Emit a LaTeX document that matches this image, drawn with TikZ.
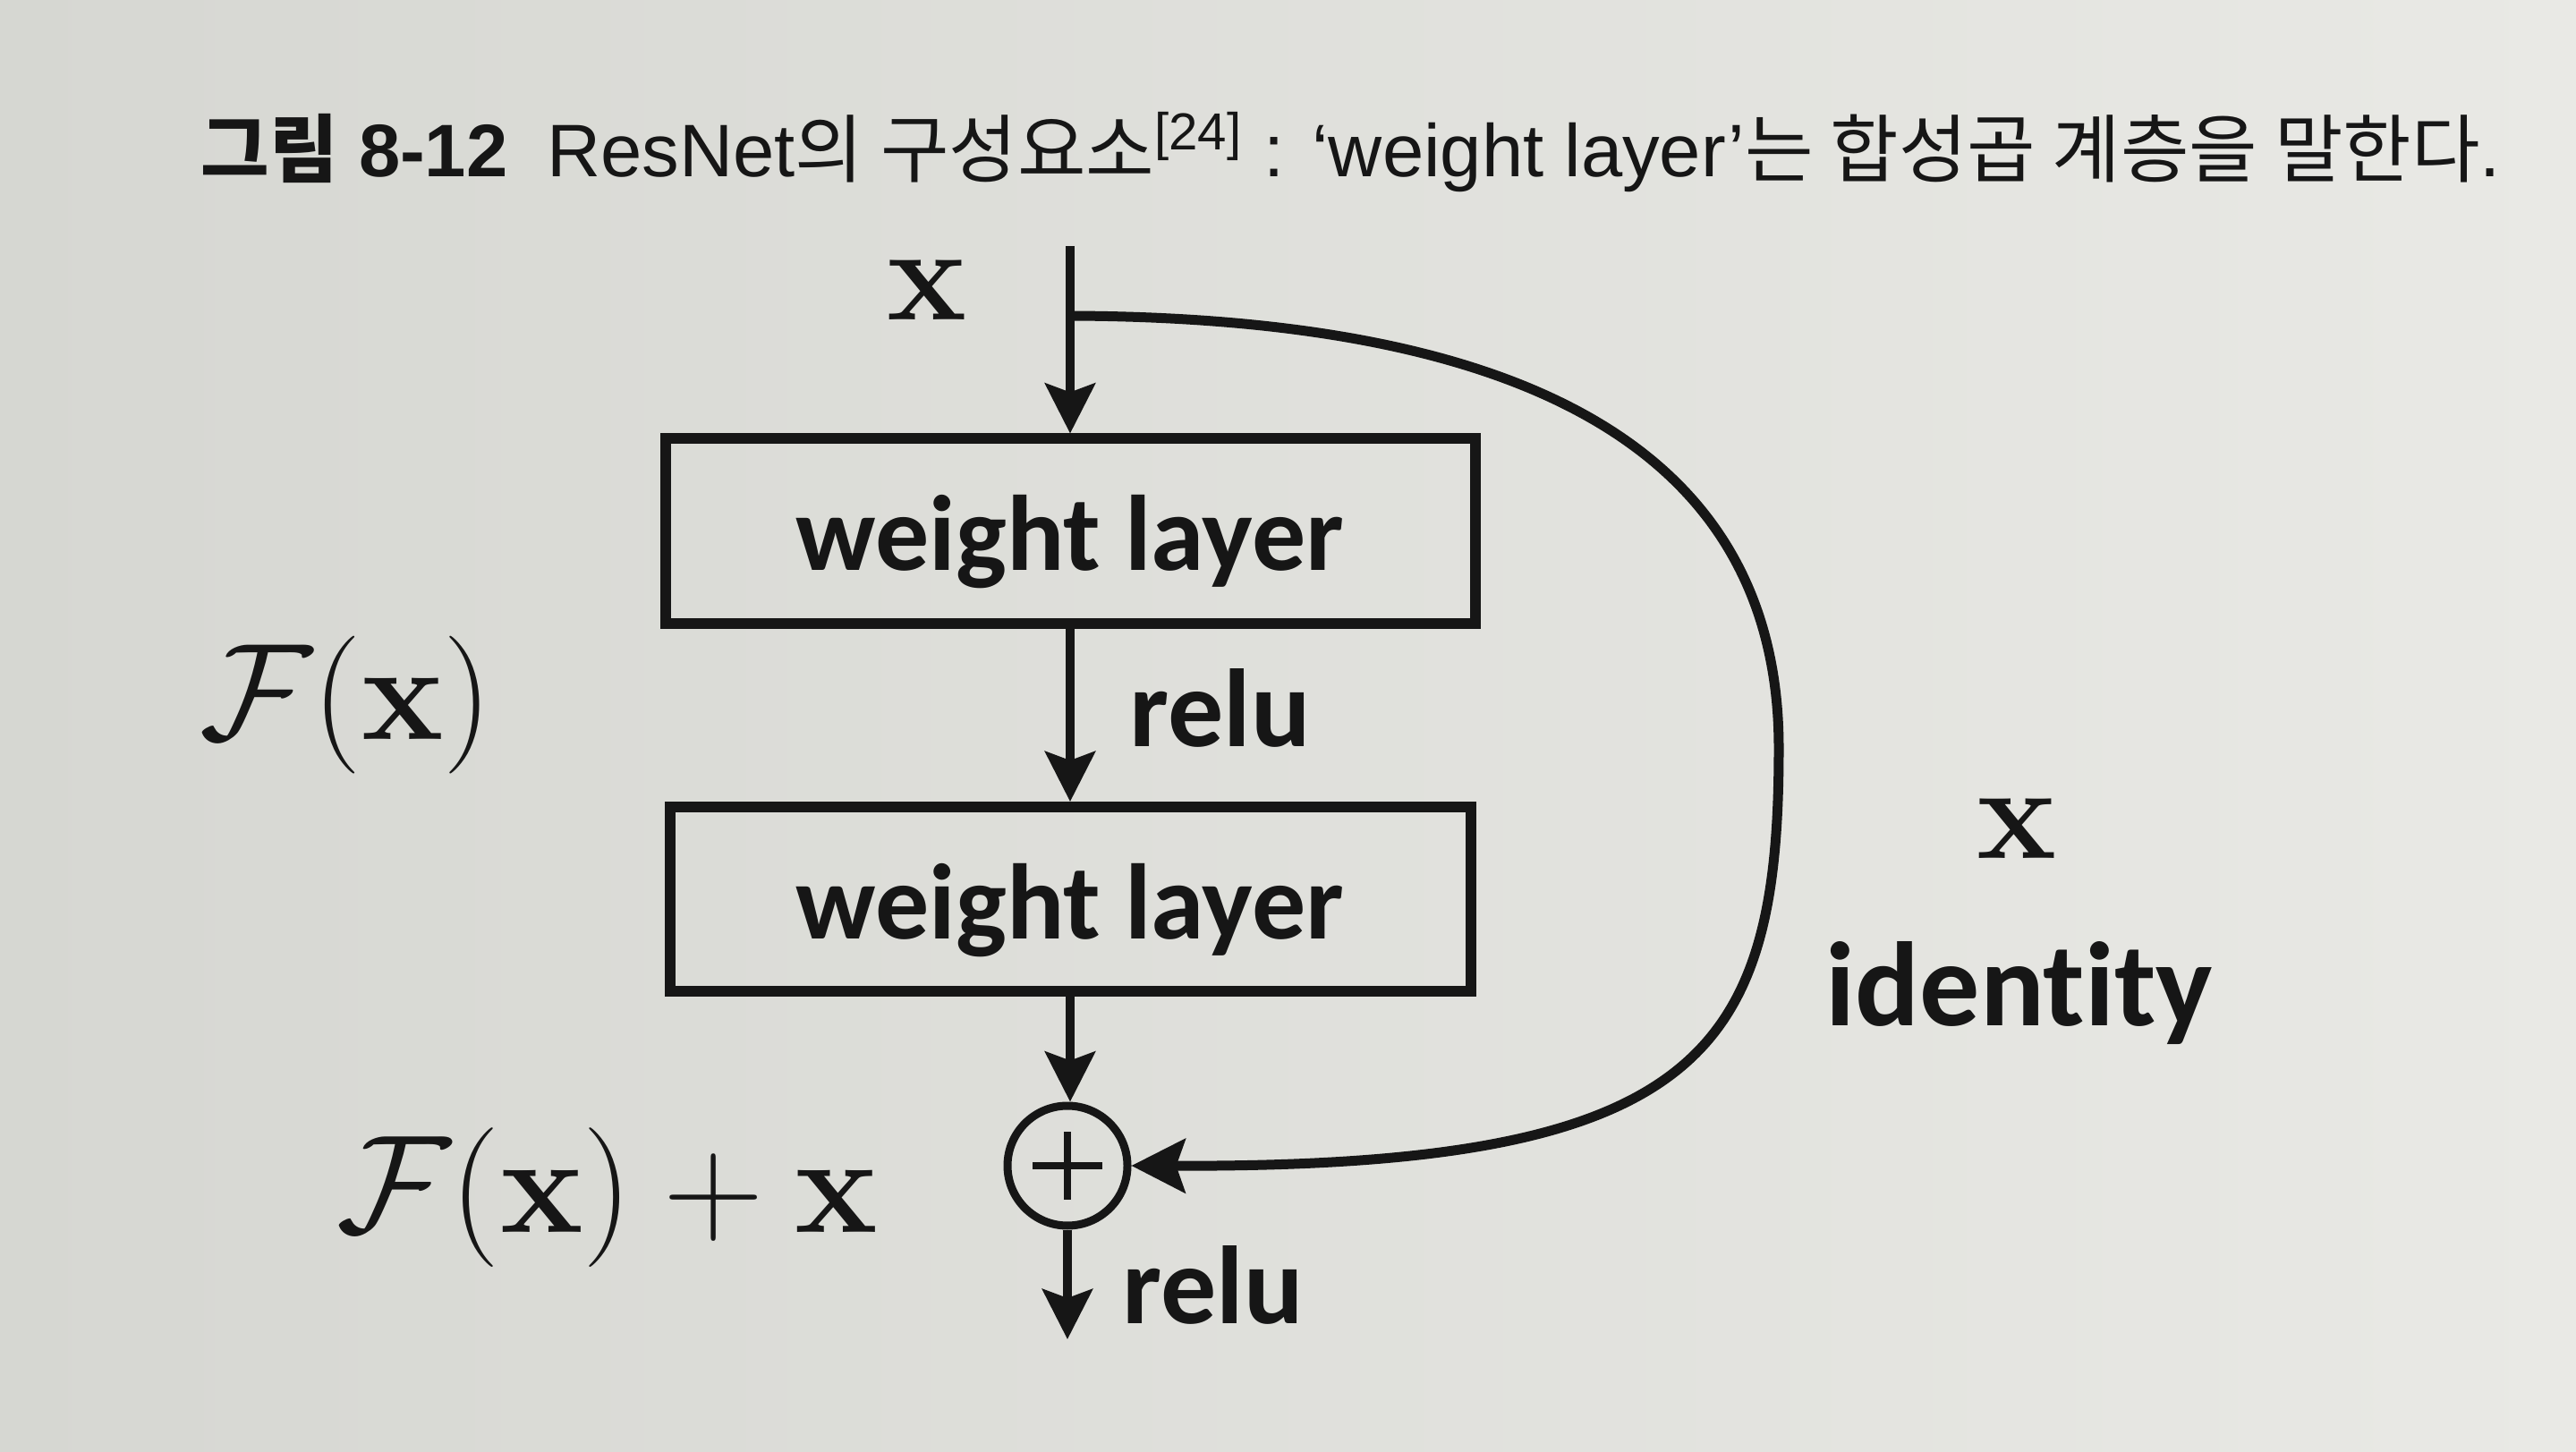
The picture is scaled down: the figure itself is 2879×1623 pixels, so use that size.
\RequirePackage{fix-cm}
\documentclass[tikz,border=0pt]{standalone}
\usepackage[no-math]{fontspec}
\setmainfont{Liberation Sans}
\newfontfamily\krfont{Noto Sans CJK KR}
\newfontfamily\carlfont[Ligatures=NoCommon]{Carlito}
\usetikzlibrary{arrows.meta,calc}
\definecolor{paperL}{RGB}{214,215,210}
\definecolor{paperR}{RGB}{233,233,229}
\definecolor{ink}{RGB}{22,22,22}
\begin{document}
\begin{tikzpicture}[x=0.25pt,y=-0.25pt,
  tip/.style={-{Stealth[length=14pt,width=14pt,inset=2.5pt]}},
  arr/.style={line width=2.3pt, draw=ink, tip},
  wbox/.style={draw=ink, line width=3pt, inner sep=0pt,
    font=\carlfont\bfseries\fontsize{30}{36}\selectfont, text=ink,
    text height=28pt, text depth=6pt},
  lbl/.style={font=\carlfont\bfseries\fontsize{31}{37}\selectfont, text=ink, inner sep=0pt, anchor=base west},
  mth/.style={font=\fontsize{37.5}{45}\selectfont, text=ink, inner sep=0pt},
  ]
\useasboundingbox (0,0) rectangle (2879,1623);
\shade[left color=paperL, right color=paperR] (0,0) rectangle (2879,1623);

% title
\node[anchor=base west, inner sep=0pt, text=ink, font=\fontsize{20.8}{25}\selectfont] (title) at (224,198)
  {{\krfont\bfseries 그림} \textbf{8-12}\hspace{11pt}ResNet{\krfont 의 구성요소}\textsuperscript{[24]} : ‘weight layer’{\krfont 는 합성곱 계층을 말한다}.};

% boxes
\node[wbox, minimum width=226.25pt, minimum height=51.75pt] (b1) at (1196,594) {weight layer};
\node[wbox, minimum width=223.75pt, minimum height=51.5pt] (b2) at (1196,1005) {weight layer};

% sum node
\node[circle, draw=ink, line width=2.25pt, minimum size=33.5pt, inner sep=0pt,
  path picture={\draw[ink, line width=2pt]
     ([xshift=-9.75pt]path picture bounding box.center) -- ([xshift=9.75pt]path picture bounding box.center)
     ([yshift=-9.5pt]path picture bounding box.center) -- ([yshift=9.5pt]path picture bounding box.center);}]
  (plus) at (1193,1303) {};

\coordinate (in) at (1196,275);
\coordinate (br) at (1196,353);
\coordinate (out) at (1193,1497);

\draw[arr] (in) -- (b1.north);
\draw[arr] (b1.south) -- (b2.north);
\draw[arr] (b2.south) -- (b2.south |- plus.north);
\draw[arr] (plus.south) -- (out);
\draw[line width=2.75pt, draw=ink, -{Stealth[length=15pt,width=15pt,inset=2.5pt]}]
  (br) .. controls (1700,355) and (1988,500) .. (1988,836)
       .. controls (1988,1180) and (1900,1305) .. (plus.east);

% labels
\node[mth, anchor=base] (xin) at (1036,358) {$\mathbf{x}$};
\node[mth, anchor=base west, font=\fontsize{38.5}{46}\selectfont] (fx) at (223,827) {$\mathcal{F}(\mathbf{x})$};
\node[mth, anchor=base east, font=\fontsize{39}{47}\selectfont] (fxx) at (982,1377) {$\mathcal{F}(\mathbf{x})+\mathbf{x}$};
\node[mth, anchor=base] (xid) at (2254,960) {$\mathbf{x}$};
\node[lbl] (relu1) at (1262,835) {relu};
\node[lbl] (relu2) at (1254,1479) {relu};
\node[lbl, font=\carlfont\bfseries\fontsize{33.5}{40}\selectfont] (ident) at (2040,1147) {identity};
\end{tikzpicture}
\end{document}
